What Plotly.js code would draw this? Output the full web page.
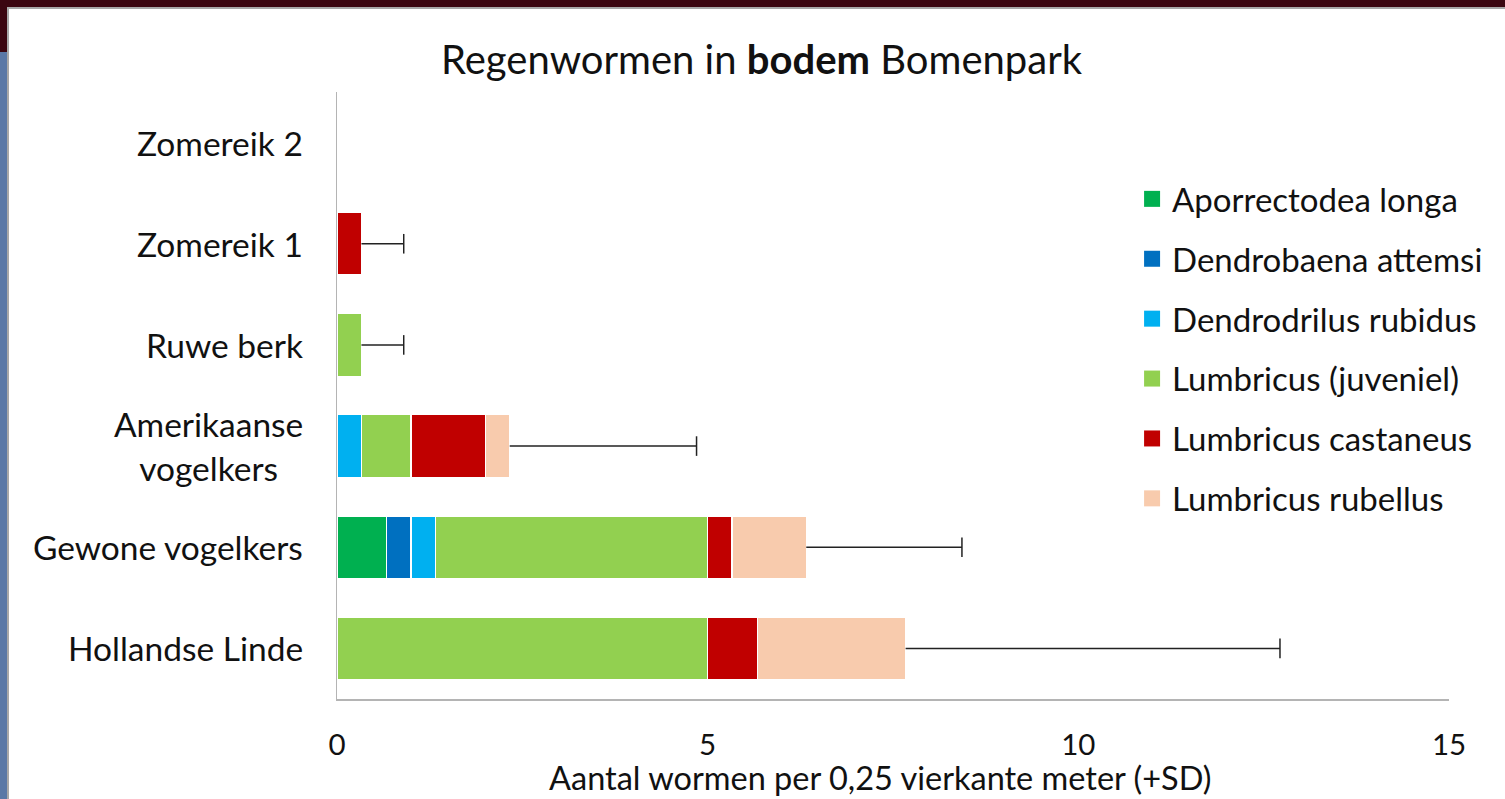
<!DOCTYPE html>
<html>
<head>
<meta charset="utf-8">
<script src="https://cdn.plot.ly/plotly-3.0.1.min.js"></script>
<style>
  html, body { margin: 0; padding: 0; width: 1505px; height: 799px; overflow: hidden; background: #5a78a6; }
  #topband { position: absolute; left: 0; top: 0; width: 1505px; height: 52px; background: #3b0610; }
  #frame { position: absolute; left: 7px; top: 7px; width: 1498px; height: 792px; background: #a8a8a8; }
  #chart { position: absolute; left: 9px; top: 9px; width: 1496px; height: 790px; background: #fff; }
</style>
</head>
<body>
<div id="topband"></div>
<div id="frame"></div>
<div id="chart"></div>
<script>
// Categories (bottom to top)
const categories = ["Hollandse Linde", "Gewone vogelkers", "Amerikaanse vogelkers", "Ruwe berk", "Zomereik 1", "Zomereik 2"];
const categoryLabels = ["Hollandse Linde", "Gewone vogelkers", "Amerikaanse<br>vogelkers", "Ruwe berk", "Zomereik 1", "Zomereik 2"];

// Series values (per category, same order)
const aporrectodeaLonga    = [0,    0.67, 0,    0,    0,    0];
const dendrobaenaAttemsi   = [0,    0.33, 0,    0,    0,    0];
const dendrodrilusRubidus  = [0,    0.33, 0.33, 0,    0,    0];
const lumbricusJuveniel    = [5.0,  3.67, 0.67, 0.33, 0,    0];
const lumbricusCastaneus   = [0.67, 0.33, 1.0,  0,    0.33, 0];
const lumbricusRubellus    = [2.0,  1.0,  0.33, 0,    0,    0];
// Standard deviation of the total (+SD)
const sdTotal              = [5.05, 2.1,  2.52, 0.57, 0.57, null];

const seriesNames = ["Aporrectodea longa", "Dendrobaena attemsi", "Dendrodrilus rubidus",
                     "Lumbricus (juveniel)", "Lumbricus castaneus", "Lumbricus rubellus"];
const seriesValues = [aporrectodeaLonga, dendrobaenaAttemsi, dendrodrilusRubidus,
                      lumbricusJuveniel, lumbricusCastaneus, lumbricusRubellus];
const seriesColors = ["#00b050", "#0070c0", "#00b0f0", "#92d050", "#c00000", "#f8cbad"];

const xTickVals = [0, 5, 10, 15];
const xTitle = "Aantal wormen per 0,25 vierkante meter (+SD)";
const chartTitle = "Regenwormen in <b>bodem</b> Bomenpark";

const FONT = "Lato, 'Open Sans', sans-serif";

const traces = seriesNames.map((name, i) => ({
  type: "bar",
  orientation: "h",
  name: name,
  legendgroup: "g" + i,
  showlegend: false,
  y: categories,
  x: seriesValues[i],
  marker: { color: seriesColors[i], line: { color: "#ffffff", width: 1.5 } },
  width: 0.62,
  hoverinfo: "x+name"
}));

// Legend entries with larger square swatches (same groups as the bars)
seriesNames.forEach((name, i) => {
  traces.push({
    type: "scatter", mode: "markers", name: name, legendgroup: "g" + i,
    x: [null], y: [null],
    marker: { symbol: "square", size: 17, color: seriesColors[i] },
    hoverinfo: "skip"
  });
});

// Error bars (+SD) drawn from the end of each stacked total
const totals = categories.map((c, j) => seriesValues.reduce((s, arr) => s + arr[j], 0));
const errX = [], errY = [], capX = [], capY = [];
categories.forEach((c, j) => {
  if (sdTotal[j] == null) return;
  errX.push(totals[j], totals[j] + sdTotal[j], null);
  errY.push(c, c, null);
  capX.push(totals[j] + sdTotal[j]);
  capY.push(c);
});
traces.push({
  type: "scatter", mode: "lines", x: errX, y: errY,
  line: { color: "#222", width: 1.5 }, showlegend: false, hoverinfo: "skip"
});
traces.push({
  type: "scatter", mode: "markers", x: capX, y: capY,
  marker: { symbol: "line-ns", size: 14, line: { color: "#222", width: 1.5 } },
  showlegend: false, hoverinfo: "skip"
});

const annotations = categories.map((c, j) => ({
  xref: "paper", yref: "y", x: -0.029, y: c,
  xanchor: "right", yanchor: "middle", align: "center",
  text: categoryLabels[j], showarrow: false,
  font: { family: FONT, size: 33.5, color: "#111" }
}));
// x-axis title
annotations.push({
  xref: "paper", yref: "paper", x: 0.488, y: -0.1647,
  xanchor: "center", yanchor: "bottom", showarrow: false,
  text: xTitle, font: { family: FONT, size: 32.5, color: "#111" }
});

const layout = {
  width: 1496, height: 790,
  margin: { l: 328, r: 56, t: 83, b: 100 },
  paper_bgcolor: "#ffffff", plot_bgcolor: "#ffffff",
  barmode: "stack",
  font: { family: FONT, color: "#111" },
  title: {
    text: chartTitle,
    xref: "container", yref: "container", x: 0.503, y: 0.935,
    xanchor: "center", yanchor: "middle",
    font: { family: FONT, size: 40, color: "#111" }
  },
  xaxis: {
    range: [0, 15], tickvals: xTickVals, ticks: "", showgrid: false, zeroline: false,
    showline: true, linecolor: "#b4b4b4", linewidth: 1.5,
    tickfont: { family: FONT, size: 29.5, color: "#111" }, ticklabelstandoff: 19
  },
  yaxis: {
    categoryorder: "array", categoryarray: categories, range: [-0.5, 5.5],
    showticklabels: false, ticks: "", showgrid: false, zeroline: false,
    showline: true, linecolor: "#b4b4b4", linewidth: 1.5
  },
  legend: {
    x: 0.715, y: 0.870, xanchor: "left", yanchor: "top",
    font: { family: FONT, size: 33, color: "#111" },
    tracegroupgap: 14, traceorder: "grouped", bgcolor: "rgba(0,0,0,0)"
  },
  annotations: annotations,
  showlegend: true
};

Plotly.newPlot("chart", traces, layout, { displayModeBar: false, staticPlot: true });
</script>
</body>
</html>
